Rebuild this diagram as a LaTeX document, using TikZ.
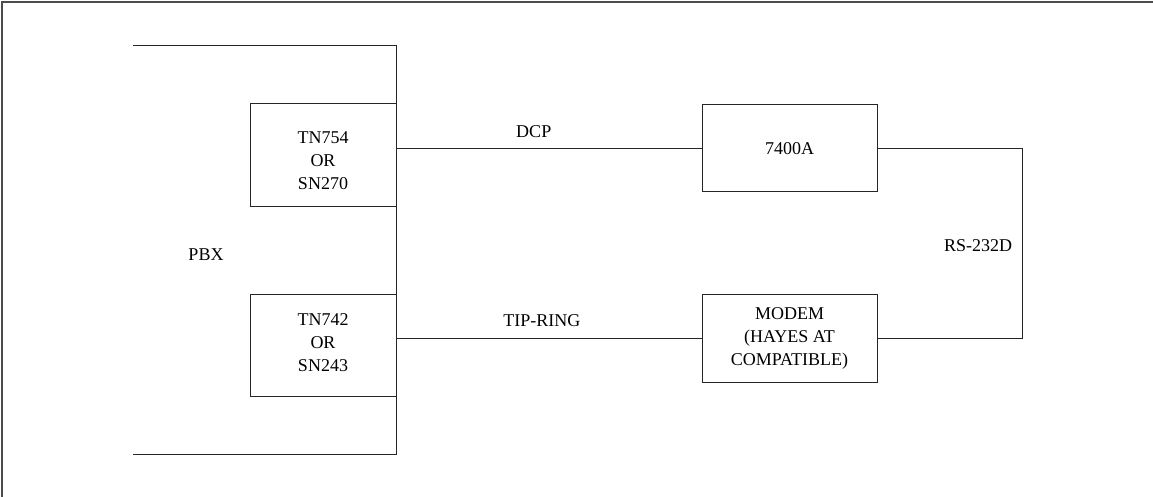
\documentclass[tikz,border=0pt]{standalone}
\usepackage{fontspec}
\setmainfont{Liberation Serif}
\usetikzlibrary{positioning}

\begin{document}
\begin{tikzpicture}[x=1pt,y=-1pt,
  box/.style={draw=black!85, line width=1pt, align=center, inner sep=0pt,
    font=\fontsize{18}{23}\selectfont},
  lbl/.style={font=\fontsize{18}{23}\selectfont},
  wire/.style={draw=black!85, line width=1pt}]
\useasboundingbox (0,0) rectangle (1153,497);
\draw[black!70, line width=1.6pt] (2,497) -- (2,2) -- (1153,2);

% PBX cabinet
\coordinate (pbxtl) at (133,46);
\coordinate (pbxbl) at (133,454);
\draw[wire] (pbxtl) -- (396,46) -- (396,454) -- (pbxbl);
\node[lbl] (pbx) at (206,255) {PBX};

\node[box, minimum width=146pt, minimum height=102pt, text height=70pt] (tn754) at (323,155) {TN754\\OR\\SN270};
\node[box, minimum width=146pt, minimum height=102pt, text depth=5pt] (tn742) at (323,345) {TN742\\OR\\SN243};

\node[box, minimum width=175pt, minimum height=87pt] (term) at (789.5,148.2) {7400A};
\node[box, minimum width=175pt, minimum height=88pt] (modem) at (789.5,338) {MODEM\\(HAYES AT\\COMPATIBLE)};

\draw[wire] (term.west -| tn754.east) -- (term.west) node[lbl, pos=0.45, above=7pt] (dcp) {DCP};
\draw[wire] (modem.west -| tn742.east) -- (modem.west) node[lbl, pos=0.477, above=7pt] (tipring) {TIP-RING};

\coordinate (rs) at (1022,148.2);
\draw[wire] (term.east) -- (rs) -- (rs |- modem.east) node[lbl, midway, left=6pt, yshift=-3pt] (rs232) {RS-232D} -- (modem.east);
\end{tikzpicture}
\end{document}
